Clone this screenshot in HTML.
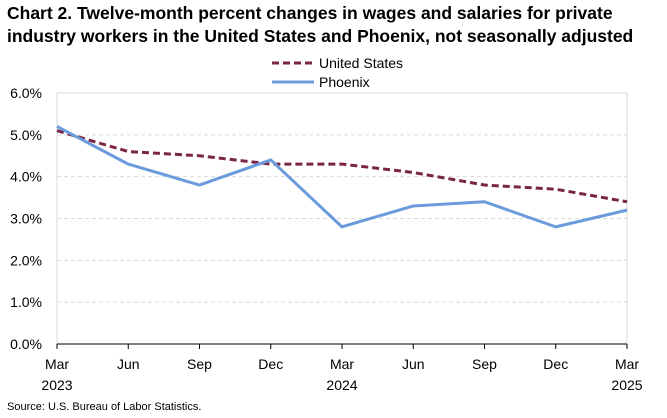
<!DOCTYPE html>
<html><head><meta charset="utf-8"><style>
body{margin:0;background:#fff;font-family:"Liberation Sans",Arial,sans-serif;}
svg text{font-family:"Liberation Sans",Arial,sans-serif;}
</style></head><body>
<svg width="667" height="413" viewBox="0 0 667 413" xmlns="http://www.w3.org/2000/svg">
<text x="7" y="19" font-size="17.5" font-weight="bold" fill="#000">Chart 2. Twelve-month percent changes in wages and salaries for private</text>
<text x="7" y="42" font-size="17.5" font-weight="bold" fill="#000">industry workers in the United States and Phoenix, not seasonally adjusted</text>
<g>
<line x1="272" y1="63" x2="314" y2="63" stroke="#7b2545" stroke-width="3" stroke-dasharray="7,4"/>
<text x="319" y="68" font-size="14" fill="#000">United States</text>
<line x1="272" y1="82" x2="314" y2="82" stroke="#6b9bdc" stroke-width="3"/>
<text x="319" y="87" font-size="14" fill="#000">Phoenix</text>
</g>
<g id="grid"></g>
<g id="axes"></g>
<g id="series"></g>
<text x="7" y="410" font-size="11" fill="#000">Source: U.S. Bureau of Labor Statistics.</text>
</svg>
<script>
const categories = ["Mar|2023","Jun","Sep","Dec","Mar|2024","Jun","Sep","Dec","Mar|2025"];
const usValues = [5.1,4.6,4.5,4.3,4.3,4.1,3.8,3.7,3.4];
const phoenixValues = [5.2,4.3,3.8,4.4,2.8,3.3,3.4,2.8,3.2];
const yTicks = [0,1,2,3,4,5,6];

const NS="http://www.w3.org/2000/svg";
const X0=57,X1=627,Y0=344,Y1=93,YMAX=6;
function xs(i){return X0+(X1-X0)*i/(categories.length-1);}
function ys(v){return Y0-(Y0-Y1)*v/YMAX;}
function mk(tag,attrs,parent){const e=document.createElementNS(NS,tag);for(const k in attrs)e.setAttribute(k,attrs[k]);parent.appendChild(e);return e;}
const grid=document.getElementById('grid'),axes=document.getElementById('axes'),series=document.getElementById('series');
yTicks.forEach(t=>{
  if(t>0){const l=mk('line',{x1:X0,x2:X1,y1:ys(t),y2:ys(t),stroke:'#d9d9d9','stroke-width':1,'stroke-dasharray':'4,3'},grid);
  
  }
  const tx=mk('text',{x:X0-15,y:ys(t)+5,'font-size':14,'text-anchor':'end',fill:'#000'},axes);
  tx.textContent=t.toFixed(1)+'%';
  
  
});
const box=mk('rect',{x:X0,y:Y1,width:X1-X0,height:Y0-Y1,fill:'none',stroke:'#d9d9d9','stroke-width':1},axes);


const xa=mk('line',{x1:X0,x2:X1,y1:Y0,y2:Y0,stroke:'#000','stroke-width':1},axes);


categories.forEach((c,i)=>{
  const tk=mk('line',{x1:xs(i),x2:xs(i),y1:Y0,y2:Y0+5,stroke:'#000','stroke-width':1},axes);
  
  
  c.split('|').forEach((p,j)=>{
    const tx=mk('text',{x:xs(i),y:Y0+25+j*21,'font-size':14,'text-anchor':'middle',fill:'#000'},axes);
    tx.textContent=p;
    
    
  });
});
function line(vals,color,dash,name){
  const pts=vals.map((v,i)=>xs(i)+','+ys(v)).join(' ');
  const a={points:pts,fill:'none',stroke:color,'stroke-width':3,'stroke-linejoin':'round'};
  if(dash)a['stroke-dasharray']=dash;
  const p=mk('polyline',a,series);
  
  
}
line(usValues,'#7b2545','7,4','series-united-states');
line(phoenixValues,'#6b9bdc',null,'series-phoenix');
</script>
</body></html>
